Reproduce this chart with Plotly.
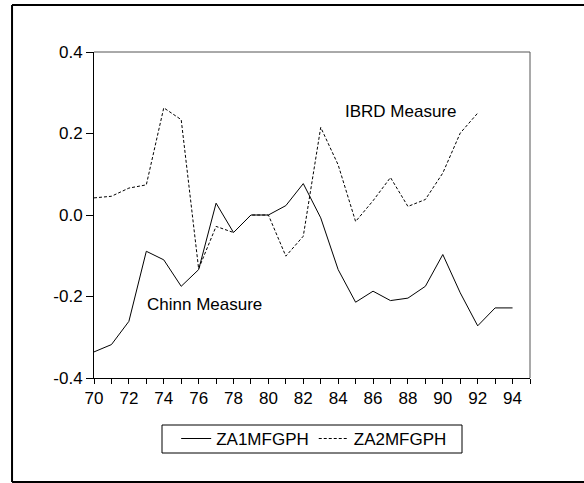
import plotly.graph_objects as go

years = list(range(70, 95))
za1mfgph = [-0.336, -0.318, -0.261, -0.089, -0.110, -0.175, -0.134, 0.029, -0.043, 0.000,
            0.000, 0.023, 0.077, -0.007, -0.134, -0.214, -0.187, -0.210, -0.204, -0.175,
            -0.097, -0.191, -0.272, -0.228, -0.228]
za2mfgph = [0.042, 0.046, 0.066, 0.074, 0.263, 0.234, -0.132, -0.028, -0.043, 0.000,
            0.000, -0.101, -0.052, 0.215, 0.123, -0.016, 0.035, 0.092, 0.021, 0.038,
            0.103, 0.201, 0.250, None, None]
series_names = ["ZA1MFGPH", "ZA2MFGPH"]
y_tickvals = [-0.4, -0.2, 0.0, 0.2, 0.4]
y_ticktext = ["-0.4", "-0.2", "0.0", "0.2", "0.4"]
x_tickvals = list(range(70, 96, 2))
x_ticktext = [str(v) for v in x_tickvals]

FONT = "Liberation Sans, Arial, sans-serif"

fig = go.Figure()
fig.add_trace(go.Scatter(x=years, y=za1mfgph, mode="lines", name=series_names[0],
                         line=dict(color="black", width=1)))
fig.add_trace(go.Scatter(x=years, y=za2mfgph, mode="lines", name=series_names[1],
                         line=dict(color="black", width=1, dash="3px,2px")))

fig.add_annotation(x=87.58, y=0.254, text="IBRD Measure", showarrow=False,
                   font=dict(size=17, color="black", family=FONT))
fig.add_annotation(x=76.36, y=-0.220, text="Chinn Measure", showarrow=False,
                   font=dict(size=17, color="black", family=FONT))

# outer frame: left, top, bottom edges (right edge lies outside the picture)
fx0, fx1, fy0, fy1 = -0.188, 1.3, -0.319, 1.144
frame = dict(color="black", width=2)
fig.add_shape(type="line", xref="paper", yref="paper", x0=fx0, x1=fx0, y0=fy0, y1=fy1, line=frame)
fig.add_shape(type="line", xref="paper", yref="paper", x0=fx0, x1=fx1, y0=fy1, y1=fy1, line=frame)
fig.add_shape(type="line", xref="paper", yref="paper", x0=fx0, x1=fx1, y0=fy0, y1=fy0, line=frame)
# legend box
fig.add_shape(type="rect", xref="paper", yref="paper",
              x0=(162 - 94) / 436, x1=(462 - 94) / 436,
              y0=(378 - 453) / 326, y1=(378 - 425) / 326,
              line=dict(color="black", width=1), fillcolor="white", layer="below")

fig.update_layout(
    width=584, height=483,
    margin=dict(l=94, r=54, t=52, b=105),
    paper_bgcolor="white", plot_bgcolor="white",
    font=dict(family=FONT, size=17, color="black"),
    showlegend=True,
    legend=dict(orientation="h", x=0.505, y=-0.187, xanchor="center", yanchor="middle",
                borderwidth=0, bgcolor="rgba(0,0,0,0)",
                font=dict(size=17, family=FONT), itemwidth=30,
                tracegroupgap=0),
    xaxis=dict(range=[70, 95], tickmode="array", tickvals=x_tickvals, ticktext=x_ticktext,
               ticks="outside", ticklen=5, tickcolor="black", showgrid=False, zeroline=False,
               showline=True, linecolor="black", linewidth=1, mirror=False,
               minor=dict(dtick=1, ticks="outside", ticklen=5, tickcolor="black", showgrid=False)),
    yaxis=dict(range=[-0.4, 0.4], tickmode="array", tickvals=y_tickvals, ticktext=y_ticktext,
               ticks="outside", ticklen=7, tickcolor="black", showgrid=False, zeroline=False,
               showline=True, linecolor="black", linewidth=1, mirror=False),
)

# top and right plot borders (grey)
fig.add_shape(type="line", xref="paper", yref="paper", x0=0, x1=1, y0=1, y1=1,
              line=dict(color="#555555", width=1))
fig.add_shape(type="line", xref="paper", yref="paper", x0=1, x1=1, y0=0, y1=1,
              line=dict(color="#555555", width=1))

fig.write_html("out.html", config={"displayModeBar": False},
               post_script="document.body.style.margin='0';document.body.style.overflow='hidden';")
